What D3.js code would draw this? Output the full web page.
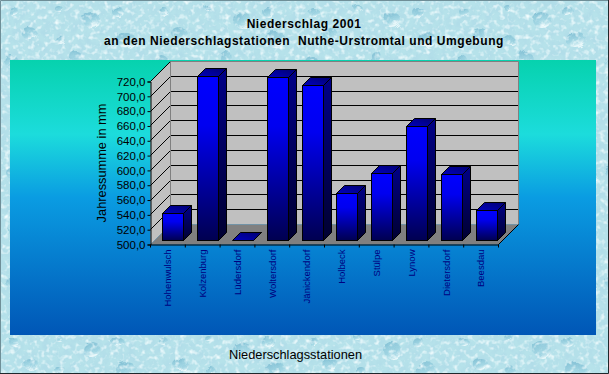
<!DOCTYPE html>
<html>
<head>
<meta charset="utf-8">
<script src="https://cdn.jsdelivr.net/npm/d3@7"></script>
<style>
html, body { margin: 0; padding: 0; background: #b9e4ec; }
svg { display: block; }
text { font-family: "Liberation Sans", Arial, sans-serif; }
</style>
</head>
<body>
<script>
// Niederschlag 2001
var stations = ["Hohenwulsch", "Kolzenburg", "Lüdersdorf", "Woltersdorf", "Jänickendorf",
    "Holbeck", "Stülpe", "Lynow", "Dietersdorf", "Beesdau"];
var rainfall = [536, 721, 500, 719, 708, 563, 590, 653, 589, 540];
var yTicks = [500, 520, 540, 560, 580, 600, 620, 640, 660, 680, 700, 720];

var width = 609;
var height = 374;

// droplets of the wallpaper, one tile of it [x, y, rx, ry]
var drops = [[14, 12, 5, 4], [30, 34, 8, 6], [58, 8, 4, 3], [60, 40, 5, 4], [92, 20, 9, 8], [118, 12, 6, 5], [126, 40, 10, 8],
    [12, 62, 7, 6], [40, 76, 9, 5], [76, 58, 6, 7], [104, 70, 12, 6], [142, 66, 6, 5], [24, 96, 5, 4], [66, 90, 6, 5], [122, 98, 7, 4]];

var svg = d3.select("body").append("svg")
    .attr("width", width)
    .attr("height", height);

var defs = svg.append("defs");

// wallpaper
var noise = defs.append("filter").attr("id", "water")
    .attr("x", 0).attr("y", 0).attr("width", "100%").attr("height", "100%");
noise.append("feTurbulence")
    .attr("type", "fractalNoise")
    .attr("baseFrequency", 0.14)
    .attr("numOctaves", 3)
    .attr("seed", 4);
noise.append("feColorMatrix")
    .attr("values", "0 0 0 0 0.44  0 0 0 0 0.72  0 0 0 0 0.81  2.4 0 0 0 -0.85");

var light = defs.append("filter").attr("id", "waterLight")
    .attr("x", 0).attr("y", 0).attr("width", "100%").attr("height", "100%");
light.append("feTurbulence")
    .attr("type", "fractalNoise")
    .attr("baseFrequency", 0.2)
    .attr("numOctaves", 2)
    .attr("seed", 11);
light.append("feColorMatrix")
    .attr("values", "0 0 0 0 0.9  0 0 0 0 0.98  0 0 0 0 0.99  2.4 0 0 0 -1.2");

var wobble = defs.append("filter").attr("id", "wobble")
    .attr("x", 0).attr("y", 0).attr("width", "100%").attr("height", "100%");
wobble.append("feTurbulence")
    .attr("type", "fractalNoise").attr("baseFrequency", 0.08).attr("numOctaves", 2).attr("seed", 7).attr("result", "n");
wobble.append("feDisplacementMap")
    .attr("in", "SourceGraphic").attr("in2", "n").attr("scale", 7);

var dropGrad = defs.append("linearGradient").attr("id", "drop")
    .attr("x1", 0).attr("y1", 0).attr("x2", 0.4).attr("y2", 1);
dropGrad.append("stop").attr("offset", "0%").attr("stop-color", "#5ea8c4").attr("stop-opacity", 0.65);
dropGrad.append("stop").attr("offset", "70%").attr("stop-color", "#8ccadc").attr("stop-opacity", 0.45);
dropGrad.append("stop").attr("offset", "100%").attr("stop-color", "#f2fcfd").attr("stop-opacity", 0.85);

var tile = defs.append("pattern").attr("id", "dropTile")
    .attr("patternUnits", "userSpaceOnUse")
    .attr("width", 150).attr("height", 110);
tile.selectAll("ellipse").data(drops).enter().append("ellipse")
    .attr("cx", function (d) { return d[0]; })
    .attr("cy", function (d) { return d[1]; })
    .attr("rx", function (d) { return d[2]; })
    .attr("ry", function (d) { return d[3]; })
    .attr("fill", "url(#drop)");

// plot area gradient
var bg = defs.append("linearGradient").attr("id", "plotBg")
    .attr("x1", 0).attr("y1", 0).attr("x2", 0).attr("y2", 1);
[[0, "#06d2ae"], [0.27, "#1cdcdc"], [0.5, "#0a9ce2"], [1, "#0056b6"]].forEach(function (s) {
    bg.append("stop").attr("offset", s[0]).attr("stop-color", s[1]);
});

var front = defs.append("linearGradient").attr("id", "barFront")
    .attr("x1", 0).attr("y1", 0).attr("x2", 0).attr("y2", 1);
front.append("stop").attr("offset", 0).attr("stop-color", "#0000ff");
front.append("stop").attr("offset", 0.3).attr("stop-color", "#0000f0");
front.append("stop").attr("offset", 1).attr("stop-color", "#000050");

var side = defs.append("linearGradient").attr("id", "barSide")
    .attr("x1", 0).attr("y1", 0).attr("x2", 0).attr("y2", 1);
side.append("stop").attr("offset", 0).attr("stop-color", "#000088");
side.append("stop").attr("offset", 1).attr("stop-color", "#000030");

var topFace = defs.append("linearGradient").attr("id", "barTop")
    .attr("x1", 0).attr("y1", 1).attr("x2", 1).attr("y2", 0);
topFace.append("stop").attr("offset", 0).attr("stop-color", "#0000c0");
topFace.append("stop").attr("offset", 1).attr("stop-color", "#000070");

// background
svg.append("rect").attr("width", width).attr("height", height).attr("fill", "#b6e2ea");
svg.append("rect").attr("width", width).attr("height", height).attr("filter", "url(#water)");
svg.append("rect").attr("width", width).attr("height", height).attr("fill", "url(#dropTile)").attr("filter", "url(#wobble)");
svg.append("rect").attr("width", width).attr("height", height).attr("filter", "url(#waterLight)");

// window frame
svg.append("path").attr("d", "M0.5,373V0.5H608.5").attr("fill", "none").attr("stroke", "#6f8f98");
svg.append("path").attr("d", "M0,373.5H608.5V0").attr("fill", "none").attr("stroke", "#20282c");

svg.append("rect")
    .attr("x", 10).attr("y", 60).attr("width", 586).attr("height", 275)
    .attr("fill", "url(#plotBg)");

// scales, front edge of the chart box
var xScale = d3.scaleBand().domain(stations).range([150.5, 498.5]);
var yScale = d3.scaleLinear().domain([500, 720]).range([244.5, 81.5]);

var depth = 20;   // box depth in px
var barDepth = 8;
var barShift = 5; // bars stand a bit behind the front edge

// walls
var y0 = yScale(500), y1 = yScale(720);
var xL = xScale.range()[0], xR = xScale.range()[1];

svg.append("path") // side wall
    .attr("d", "M" + xL + "," + y0 + "L" + xL + "," + y1 + "L" + (xL + depth) + "," + (y1 - depth) + "L" + (xL + depth) + "," + (y0 - depth) + "Z")
    .attr("fill", "#c0c0c0");
svg.append("rect") // back wall
    .attr("x", xL + depth).attr("y", y1 - depth)
    .attr("width", xR - xL).attr("height", y0 - y1)
    .attr("fill", "#c0c0c0");
svg.append("path") // floor
    .attr("d", "M" + xL + "," + y0 + "L" + (xL + depth) + "," + (y0 - depth) + "L" + (xR + depth) + "," + (y0 - depth) + "L" + xR + "," + y0 + "Z")
    .attr("fill", "#808080");

// grid lines
yTicks.slice(1).forEach(function (t) {
    var y = Math.round(yScale(t) - 0.5) + 0.5;
    svg.append("path")
        .attr("d", "M" + xL + "," + y + "L" + (xL + depth) + "," + (y - depth) + (t < 720 ? "L" + (xR + depth) + "," + (y - depth) : ""))
        .attr("fill", "none").attr("stroke", "#000");
});
svg.append("path")
    .attr("d", "M" + (xL + depth) + "," + (y0 - depth) + "V" + (y1 - depth) + "H" + (xR + depth) + "V" + (y0 - depth))
    .attr("fill", "none").attr("stroke", "#808080");
svg.append("path")
    .attr("d", "M" + xR + "," + y0 + "L" + (xR + depth) + "," + (y0 - depth))
    .attr("fill", "none").attr("stroke", "#000");

// axes
var yAxis = d3.axisLeft(yScale)
    .tickValues(yTicks)
    .tickSize(3)
    .tickFormat(function (d) { return d3.format(".1f")(d).replace(".", ","); });
var yAxisGroup = svg.append("g")
    .attr("transform", "translate(" + xL + ",0)")
    .call(yAxis);
yAxisGroup.attr("font-family", null);
yAxisGroup.selectAll("text")
    .attr("font-size", 11.5).attr("fill", "#000").attr("x", -5);
yAxisGroup.select(".domain").attr("stroke", "#000");

var xAxisGroup = svg.append("g")
    .attr("transform", "translate(0," + y0 + ")")
    .call(d3.axisBottom(xScale).tickSize(0).tickPadding(0));
xAxisGroup.select(".domain").attr("stroke", "#000");
xAxisGroup.attr("font-family", null);
xAxisGroup.selectAll(".tick text")
    .attr("font-size", 9.5)
    .attr("fill", "#000080")
    .attr("text-anchor", "end")
    .attr("transform", "rotate(-90)")
    .attr("x", -5)
    .attr("y", 0)
    .attr("dy", "0.35em");

// band edge ticks
svg.selectAll("line.xtick")
    .data(stations.concat(["end"]))
    .enter().append("line")
    .attr("class", "xtick")
    .attr("x1", function (d, i) { return xL + i * xScale.step(); })
    .attr("x2", function (d, i) { return xL + i * xScale.step(); })
    .attr("y1", y0).attr("y2", y0 + 3)
    .attr("stroke", "#000");

// bars
var barW = 21;
var rows = stations.map(function (s, i) { return { station: s, value: rainfall[i] }; });
var bars = svg.selectAll("g.bar").data(rows).enter().append("g").attr("class", "bar");

function bx(d) { return Math.round(xScale(d.station) + xScale.bandwidth() / 2 + barShift - barW / 2) + 0.5; }
function by(d) { return Math.round(yScale(d.value) - barShift) + 0.5; }
var yb = Math.round(y0 - barShift) + 0.5;

bars.append("path") // right side
    .attr("d", function (d) {
        var x = bx(d) + barW, y = by(d);
        return "M" + x + "," + y + "L" + (x + barDepth) + "," + (y - barDepth) + "L" + (x + barDepth) + "," + (yb - barDepth) + "L" + x + "," + yb + "Z";
    })
    .attr("fill", "url(#barSide)").attr("stroke", "#000");
bars.append("path") // top
    .attr("d", function (d) {
        var x = bx(d), y = by(d);
        return "M" + x + "," + y + "L" + (x + barDepth) + "," + (y - barDepth) + "L" + (x + barW + barDepth) + "," + (y - barDepth) + "L" + (x + barW) + "," + y + "Z";
    })
    .attr("fill", "url(#barTop)").attr("stroke", "#000");
bars.filter(function (d) { return d.value > 500; }).append("rect")
    .attr("x", bx)
    .attr("y", by)
    .attr("width", barW)
    .attr("height", function (d) { return yb - by(d); })
    .attr("fill", "url(#barFront)").attr("stroke", "#000");

// titles
svg.append("text").attr("x", 304).attr("y", 28).attr("text-anchor", "middle")
    .attr("font-size", 12).attr("font-weight", "bold").attr("letter-spacing", 0.55)
    .text("Niederschlag 2001");
svg.append("text").attr("x", 304).attr("y", 45).attr("text-anchor", "middle")
    .attr("font-size", 12).attr("font-weight", "bold").attr("letter-spacing", 0.55)
    .style("white-space", "pre")
    .text("an den Niederschlagstationen  Nuthe-Urstromtal und Umgebung");

svg.append("text").attr("text-anchor", "middle")
    .attr("transform", "translate(106,163) rotate(-90)")
    .attr("font-size", 12.8).attr("fill", "#000")
    .text("Jahressumme in mm");
svg.append("text").attr("x", 295.5).attr("y", 359).attr("text-anchor", "middle")
    .attr("font-size", 12.8).attr("fill", "#000")
    .text("Niederschlagsstationen");
</script>
</body>
</html>
